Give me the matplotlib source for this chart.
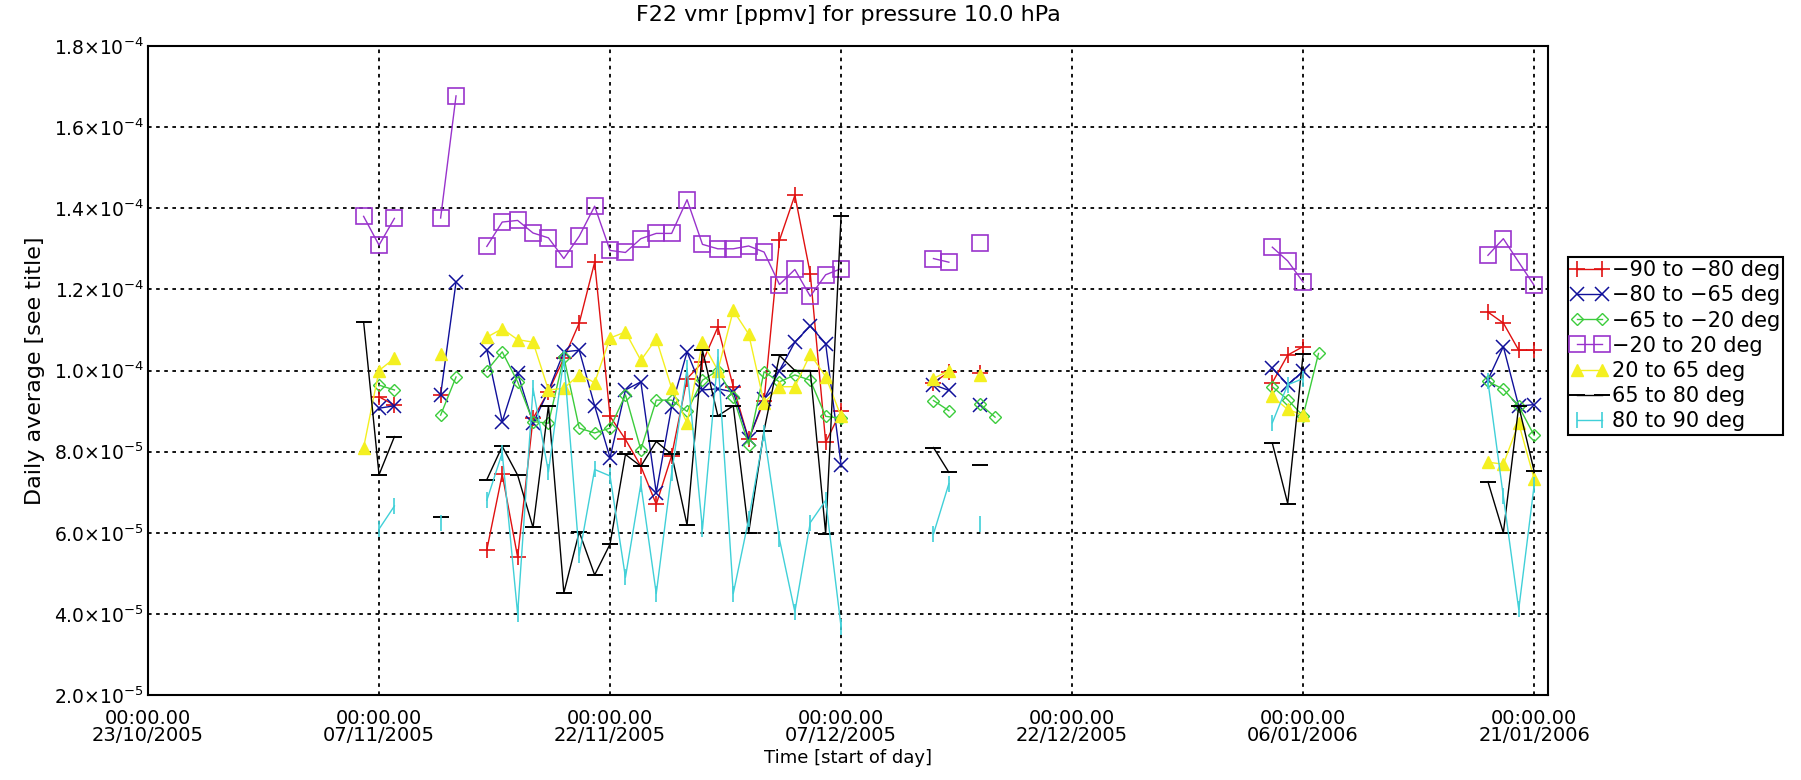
import numpy as np
import matplotlib
matplotlib.use("Agg")
import matplotlib.pyplot as plt
import matplotlib.dates as mdates
from datetime import datetime

start = datetime(2005, 10, 23)

# day offsets from 23/10/2005, daily averages in units of 1e-4 ppmv
days_m90 = [15, 16, 19, 22, 23, 24, 25, 26, 27, 28, 29, 30, 31, 32, 33, 34, 35, 36, 37, 38, 39, 40,
            41, 42, 43, 44, 45, 51, 52, 54, 73, 74, 75, 87, 88, 89, 90]
vals_m90 = [0.935, 0.915, 0.94, 0.558, 0.744, 0.54, 0.882, 0.948, 1.03, 1.117, 1.267, 0.887, 0.83,
            0.764, 0.67, 0.79, 0.98, 1.02, 1.107, 0.96, 0.83, 0.925, 1.321, 1.432, 1.239, 0.823, 0.90,
            0.97, 0.996, 0.993, 0.97, 1.038, 1.059, 1.144, 1.117, 1.05, 1.05]

days_m80 = [15, 16, 19, 20, 22, 23, 24, 25, 26, 27, 28, 29, 30, 31, 32, 33, 34, 35, 36, 37, 38, 39,
            40, 41, 42, 43, 44, 45, 51, 52, 54, 73, 74, 75, 87, 88, 89, 90]
vals_m80 = [0.907, 0.913, 0.94, 1.218, 1.051, 0.874, 0.993, 0.87, 0.95, 1.046, 1.05, 0.913, 0.785,
            0.952, 0.972, 0.699, 0.911, 1.046, 0.952, 0.955, 0.947, 0.83, 0.93, 1.0, 1.07, 1.11, 1.066,
            0.768, 0.965, 0.951, 0.914, 1.006, 0.965, 0.998, 0.977, 1.059, 0.912, 0.916]

days_m65 = [15, 16, 19, 20, 22, 23, 24, 25, 26, 27, 28, 29, 30, 31, 32, 33, 34, 35, 36, 37, 38, 39,
            40, 41, 42, 43, 44, 45, 51, 52, 54, 55, 73, 74, 75, 76, 87, 88, 89, 90]
vals_m65 = [0.964, 0.952, 0.89, 0.984, 1.0, 1.046, 0.972, 0.874, 0.87, 1.033, 0.858, 0.846, 0.858,
            0.94, 0.805, 0.927, 0.927, 0.899, 0.976, 1.0, 0.935, 0.817, 0.997, 0.972, 0.989, 0.976,
            0.887, 0.882, 0.926, 0.901, 0.918, 0.885, 0.96, 0.928, 0.888, 1.042, 0.973, 0.954, 0.912,
            0.84]

days_m20 = [14, 15, 16, 19, 20, 22, 23, 24, 25, 26, 27, 28, 29, 30, 31, 32, 33, 34, 35, 36, 37, 38,
            39, 40, 41, 42, 43, 44, 45, 51, 52, 54, 73, 74, 75, 87, 88, 89, 90]
vals_m20 = [1.38, 1.309, 1.375, 1.376, 1.677, 1.306, 1.366, 1.370, 1.339, 1.327, 1.276, 1.331, 1.405,
            1.296, 1.291, 1.325, 1.338, 1.338, 1.421, 1.311, 1.30, 1.30, 1.307, 1.292, 1.212, 1.249,
            1.183, 1.236, 1.251, 1.276, 1.267, 1.315, 1.304, 1.27, 1.218, 1.284, 1.325, 1.267, 1.21]

days_p20 = [14, 15, 16, 19, 22, 23, 24, 25, 26, 27, 28, 29, 30, 31, 32, 33, 34, 35, 36, 37, 38, 39,
            40, 41, 42, 43, 44, 45, 51, 52, 54, 73, 74, 75, 87, 88, 89, 90]
vals_p20 = [0.81, 1.0, 1.03, 1.04, 1.082, 1.103, 1.076, 1.07, 0.952, 0.956, 0.99, 0.97, 1.08, 1.095,
            1.025, 1.078, 0.956, 0.87, 1.07, 1.0, 1.148, 1.09, 0.92, 0.96, 0.96, 1.04, 0.985, 0.887,
            0.98, 1.0, 0.99, 0.936, 0.904, 0.89, 0.774, 0.769, 0.87, 0.733]

days_p65 = [14, 15, 16, 19, 22, 23, 24, 25, 26, 27, 28, 29, 30, 31, 32, 33, 34, 35, 36, 37, 38, 39,
            40, 41, 42, 43, 44, 45, 51, 52, 54, 73, 74, 75, 87, 88, 89, 90]
vals_p65 = [1.12, 0.743, 0.837, 0.638, 0.731, 0.813, 0.742, 0.613, 0.913, 0.452, 0.602, 0.496, 0.572,
            0.793, 0.764, 0.825, 0.793, 0.619, 1.05, 0.888, 0.913, 0.60, 0.852, 1.037, 1.0, 1.0, 0.598,
            1.38, 0.81, 0.749, 0.768, 0.821, 0.672, 1.04, 0.726, 0.60, 0.912, 0.752]

days_p80 = [15, 16, 19, 22, 23, 24, 25, 26, 27, 28, 29, 30, 31, 32, 33, 34, 35, 36, 37, 38, 39, 40,
            41, 42, 43, 44, 45, 51, 52, 54, 73, 74, 75, 87, 88, 89, 90]
vals_p80 = [0.609, 0.666, 0.625, 0.68, 0.797, 0.40, 0.956, 0.75, 1.03, 0.544, 0.756, 0.74, 0.49, 0.72,
            0.45, 0.748, 1.005, 0.609, 1.033, 0.45, 0.633, 0.846, 0.584, 0.405, 0.625, 0.68, 0.368,
            0.597, 0.721, 0.622, 0.871, 0.965, 0.98, 0.973, 0.69, 0.411, 0.717]

labels = ["\u221290 to \u221280 deg", "\u221280 to \u221265 deg", "\u221265 to \u221220 deg",
          "\u221220 to 20 deg", "20 to 65 deg", "65 to 80 deg", "80 to 90 deg"]

tick_days = [0, 15, 30, 45, 60, 75, 90]
tick_dates = ["23/10/2005", "07/11/2005", "22/11/2005", "07/12/2005", "22/12/2005", "06/01/2006",
              "21/01/2006"]
ytick_vals = [2e-5, 4e-5, 6e-5, 8e-5, 1e-4, 1.2e-4, 1.4e-4, 1.6e-4, 1.8e-4]
ytick_text = [r"$2.0{\times}10^{-5}$", r"$4.0{\times}10^{-5}$", r"$6.0{\times}10^{-5}$",
              r"$8.0{\times}10^{-5}$", r"$1.0{\times}10^{-4}$", r"$1.2{\times}10^{-4}$",
              r"$1.4{\times}10^{-4}$", r"$1.6{\times}10^{-4}$", r"$1.8{\times}10^{-4}$"]

t0 = mdates.date2num(start)


def with_gaps(days, vals):
    # break the line wherever a day is missing
    d = np.asarray(days, float)
    v = np.asarray(vals, float) * 1e-4
    brk = np.where(np.diff(d) > 1)[0] + 1
    d = np.insert(d, brk, np.nan)
    v = np.insert(v, brk, np.nan)
    return t0 + d, v


series = [
    (days_m90, vals_m90, dict(color="#e01010", marker="+", ms=11, mew=1.2)),
    (days_m80, vals_m80, dict(color="#10109a", marker="x", ms=10, mew=1.1)),
    (days_m65, vals_m65, dict(color="#3ccc3c", marker="D", ms=6, mfc="none", mew=1.0)),
    (days_m20, vals_m20, dict(color="#9933cc", marker="s", ms=11, mfc="none", mew=1.2)),
    (days_p20, vals_p20, dict(color="#f4f020", marker="^", ms=9, mew=1.0)),
    (days_p65, vals_p65, dict(color="black", marker="_", ms=12, mew=1.4)),
    (days_p80, vals_p80, dict(color="#40d0d8", marker="|", ms=11, mew=1.2)),
]

fig = plt.figure(figsize=(18.01, 7.8), dpi=100)
ax = fig.add_axes([148 / 1801, 1 - 695 / 780, 1400 / 1801, 649 / 780])

for (d, v, st), lab in zip(series, labels):
    x, y = with_gaps(d, v)
    ax.plot(x, y, lw=1.0, label=lab, **st)

ax.set_xlim(t0, t0 + 90.9)
ax.set_ylim(2e-5, 1.8e-4)
ax.set_xticks([t0 + d for d in tick_days])
ax.set_xticklabels(["00:00.00\n" + s for s in tick_dates], fontsize=14, linespacing=0.85)
ax.set_yticks(ytick_vals)
ax.set_yticklabels(ytick_text, fontsize=13.5)
ax.tick_params(length=0)
ax.tick_params(axis="x", pad=10)
ax.tick_params(axis="y", pad=3)
ax.grid(True, color="black", linestyle=(0, (2, 2.5)), linewidth=1.3)
for s in ax.spines.values():
    s.set_linewidth(1.5)

ax.set_title("F22 vmr [ppmv] for pressure 10.0 hPa", fontsize=16, pad=18)
ax.set_xlabel("Time [start of day]", fontsize=13, labelpad=3)
ax.set_ylabel("Daily average [see title]", fontsize=16, labelpad=6)

leg = fig.legend(loc="upper left", bbox_to_anchor=(1568 / 1801, 1 - 257 / 780), borderaxespad=0,
                 fontsize=15, fancybox=False, edgecolor="black", framealpha=1, numpoints=2,
                 handlelength=1.8, handletextpad=0.15, labelspacing=0.25, borderpad=0.15)
leg.get_frame().set_linewidth(1.5)

fig.savefig("out.png", dpi=100)
